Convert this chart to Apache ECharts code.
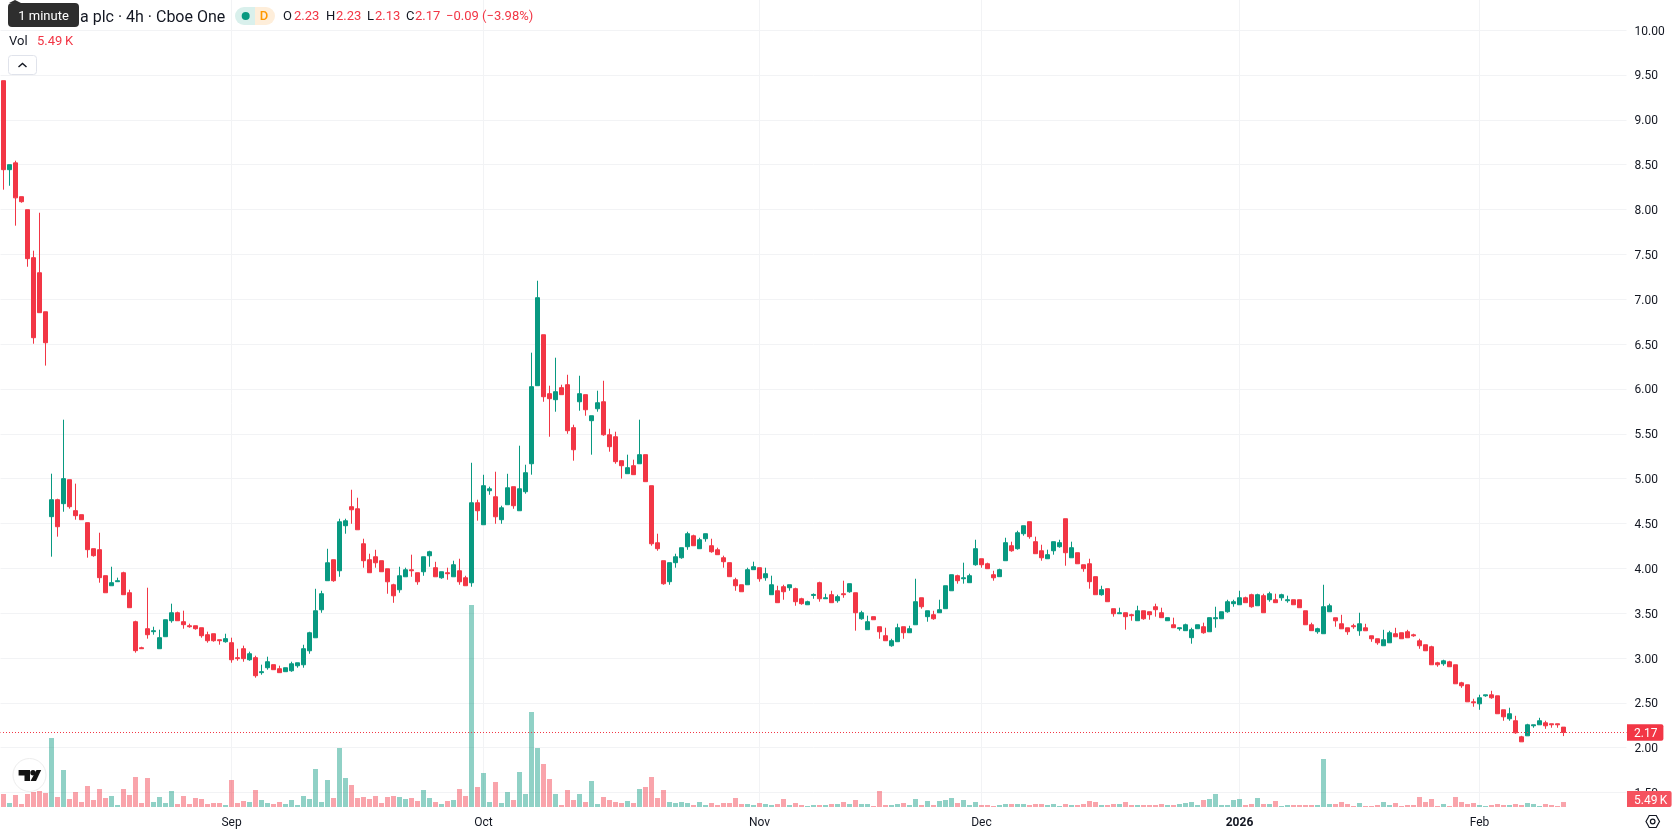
<!DOCTYPE html>
<html>
<head>
<meta charset="utf-8">
<title>4h price and volume</title>
<style>html,body{margin:0;padding:0;background:#fff}#chart{width:1678px;height:835px}</style>
<script src="https://cdn.jsdelivr.net/npm/echarts@6/dist/echarts.min.js"></script>
</head>
<body>
<div id="chart"></div>
<script>
// Candle values, one entry per 4h bar
const opens = [
9.436,8.444,8.52,8.143,7.998,7.463,7.295,6.86,4.576,4.765,
4.721,4.988,4.643,4.598,4.509,4.219,4.208,3.918,3.806,3.851,
3.951,3.728,3.405,3.115,3.327,3.294,3.104,3.238,3.416,3.505,
3.405,3.36,3.36,3.338,3.26,3.271,3.204,3.182,3.171,3.004,
3.104,2.981,3.004,2.837,2.892,2.926,2.881,2.848,2.858,2.914,
2.925,3.081,3.226,3.538,3.862,4.096,3.973,4.475,4.687,4.664,
4.274,4.096,4.129,4.085,3.995,3.817,3.761,3.906,3.984,3.951,
3.962,4.14,4.007,3.895,3.951,3.906,3.973,3.895,3.839,4.731,
4.486,4.865,4.798,4.542,4.709,4.91,4.642,4.854,5.166,6.036,
6.604,5.947,5.88,6.014,6.047,5.568,5.857,5.936,5.646,5.779,
5.857,5.489,5.467,5.2,5.055,5.144,5.166,5.267,4.921,4.285,
4.085,3.851,4.063,4.118,4.241,4.363,4.219,4.33,4.252,4.207,
4.118,4.063,3.873,3.817,3.817,3.985,4.007,3.895,3.706,3.75,
3.795,3.784,3.773,3.661,3.594,3.698,3.84,3.661,3.706,3.639,
3.717,3.739,3.728,3.438,3.316,3.461,3.349,3.249,3.137,3.182,
3.349,3.282,3.371,3.672,3.461,3.483,3.505,3.55,3.75,3.918,
3.884,3.84,4.04,4.107,4.051,3.929,3.907,4.085,4.252,4.219,
4.386,4.52,4.297,4.196,4.107,4.196,4.241,4.553,4.118,4.174,
4.04,4.051,3.907,3.706,3.773,3.55,3.494,3.505,3.483,3.416,
3.527,3.516,3.572,3.505,3.416,3.371,3.327,3.305,3.227,3.327,
3.349,3.293,3.438,3.438,3.516,3.606,3.594,3.672,3.706,3.583,
3.695,3.65,3.65,3.672,3.639,3.65,3.65,3.527,3.371,3.293,
3.271,3.516,3.449,3.382,3.337,3.36,3.304,3.337,3.248,3.215,
3.137,3.17,3.271,3.282,3.293,3.259,3.192,3.148,3.126,2.947,
2.936,2.958,2.925,2.724,2.702,2.512,2.49,2.579,2.59,2.579,
2.423,2.323,2.301,2.122,2.133,2.245,2.256,2.278,2.267,2.267,
2.23];
const highs = [
9.436,8.5,8.544,8.143,7.998,7.541,7.964,6.86,5.055,4.776,
5.657,4.988,4.944,4.598,4.509,4.219,4.397,3.918,4.018,3.896,
3.962,3.762,3.416,3.126,3.784,3.349,3.316,3.427,3.606,3.517,
3.528,3.383,3.36,3.338,3.294,3.271,3.204,3.271,3.227,3.104,
3.138,3.071,3.026,2.926,3.015,2.926,2.915,2.892,2.959,2.947,
3.148,3.293,3.772,3.75,4.218,4.096,4.553,4.553,4.876,4.787,
4.33,4.163,4.207,4.085,3.995,3.828,4.018,4.007,4.152,3.951,
4.129,4.196,4.073,3.962,4.007,4.085,4.107,3.917,5.177,4.765,
5.043,4.91,5.077,4.698,5.054,4.91,5.367,5.155,6.404,7.206,
6.604,6.036,6.348,6.047,6.158,5.601,6.147,5.936,5.701,5.98,
6.091,5.556,5.523,5.2,5.267,5.211,5.657,5.267,4.921,4.386,
4.085,4.063,4.163,4.23,4.408,4.375,4.341,4.386,4.33,4.23,
4.141,4.063,3.895,3.817,4.007,4.074,4.007,4.007,3.918,3.806,
3.817,3.817,3.784,3.672,3.639,3.72,3.851,3.717,3.75,3.706,
3.862,3.829,3.728,3.527,3.472,3.461,3.349,3.338,3.215,3.383,
3.349,3.36,3.884,3.672,3.527,3.527,3.65,3.806,3.929,3.929,
4.063,3.94,4.319,4.107,4.063,3.973,3.996,4.341,4.297,4.419,
4.475,4.52,4.353,4.263,4.208,4.297,4.319,4.553,4.297,4.174,
4.04,4.107,3.907,3.806,3.773,3.55,3.561,3.505,3.494,3.583,
3.527,3.516,3.606,3.561,3.45,3.45,3.338,3.383,3.338,3.371,
3.394,3.45,3.572,3.516,3.65,3.65,3.75,3.684,3.717,3.717,
3.717,3.739,3.717,3.717,3.695,3.65,3.65,3.527,3.394,3.338,
3.817,3.606,3.449,3.482,3.337,3.382,3.505,3.382,3.248,3.215,
3.315,3.304,3.337,3.282,3.315,3.271,3.215,3.148,3.137,2.958,
2.981,2.969,2.925,2.735,2.702,2.546,2.591,2.59,2.635,2.579,
2.423,2.446,2.356,2.133,2.267,2.256,2.334,2.301,2.267,2.267,
2.23];
const lows = [
8.221,8.265,7.82,8.076,7.362,6.504,6.85,6.26,4.13,4.353,
4.631,4.665,4.542,4.542,4.119,4.13,3.84,3.728,3.806,3.851,
3.706,3.561,3.06,3.104,3.216,3.26,3.104,3.238,3.394,3.416,
3.327,3.338,3.316,3.227,3.171,3.182,3.149,3.171,2.948,2.97,
2.959,2.97,2.781,2.814,2.87,2.87,2.837,2.848,2.847,2.892,
2.892,3.048,3.226,3.505,3.862,3.85,3.906,4.386,4.497,4.43,
4.007,3.951,4.007,3.962,3.717,3.616,3.728,3.906,3.906,3.817,
3.917,4.018,3.906,3.884,3.873,3.906,3.817,3.806,3.795,4.531,
4.486,4.82,4.497,4.497,4.709,4.664,4.642,4.832,5.044,6.036,
5.857,5.467,5.746,5.936,5.5,5.2,5.757,5.701,5.267,5.746,
5.478,5.3,5.166,5.0,5.055,5.044,5.166,4.966,4.252,4.196,
3.817,3.817,4.007,4.107,4.207,4.252,4.219,4.297,4.174,4.152,
4.007,3.907,3.75,3.739,3.817,3.985,3.851,3.862,3.706,3.617,
3.65,3.75,3.583,3.594,3.594,3.661,3.628,3.661,3.617,3.617,
3.672,3.728,3.305,3.427,3.316,3.427,3.215,3.193,3.126,3.182,
3.215,3.282,3.371,3.55,3.405,3.427,3.505,3.55,3.75,3.829,
3.829,3.84,4.029,4.007,3.996,3.862,3.907,4.085,4.185,4.208,
4.364,4.33,4.163,4.085,4.107,4.152,4.23,4.029,4.118,4.051,
3.962,3.773,3.706,3.695,3.628,3.461,3.494,3.316,3.416,3.416,
3.427,3.427,3.461,3.45,3.416,3.338,3.305,3.305,3.16,3.327,
3.271,3.293,3.338,3.438,3.505,3.572,3.594,3.617,3.561,3.583,
3.505,3.628,3.617,3.639,3.617,3.594,3.561,3.371,3.305,3.271,
3.271,3.516,3.349,3.326,3.259,3.326,3.248,3.304,3.181,3.148,
3.137,3.17,3.237,3.215,3.226,3.237,3.103,3.081,2.925,2.903,
2.914,2.903,2.713,2.668,2.512,2.457,2.423,2.568,2.546,2.379,
2.301,2.301,2.156,2.066,2.133,2.223,2.256,2.211,2.223,2.223,
2.13];
const closes = [
8.444,8.5,8.13,8.087,7.452,6.571,6.85,6.515,4.765,4.464,
5.0,4.687,4.587,4.542,4.208,4.141,3.896,3.728,3.84,3.862,
3.706,3.561,3.082,3.104,3.26,3.305,3.227,3.427,3.505,3.416,
3.372,3.349,3.327,3.249,3.193,3.193,3.193,3.216,2.981,2.993,
2.993,3.048,2.803,2.848,2.959,2.87,2.837,2.892,2.936,2.947,
3.104,3.282,3.527,3.717,4.062,3.862,4.519,4.53,4.653,4.43,
4.085,3.951,4.062,3.962,3.85,3.694,3.917,3.984,3.973,3.85,
4.129,4.185,3.906,3.962,3.94,4.04,3.85,3.806,4.731,4.642,
4.921,4.887,4.575,4.675,4.898,4.698,4.887,5.066,6.025,7.017,
5.913,5.891,5.969,5.936,5.534,5.322,5.947,5.768,5.701,5.846,
5.489,5.356,5.189,5.144,5.122,5.044,5.267,4.966,4.274,4.219,
3.828,4.063,4.129,4.23,4.386,4.252,4.319,4.386,4.185,4.152,
4.074,3.907,3.806,3.739,3.985,4.018,3.884,3.94,3.817,3.617,
3.739,3.817,3.628,3.606,3.628,3.709,3.661,3.672,3.617,3.684,
3.706,3.829,3.505,3.505,3.405,3.427,3.293,3.193,3.193,3.338,
3.282,3.327,3.628,3.572,3.527,3.438,3.539,3.806,3.929,3.862,
3.895,3.918,4.219,4.04,3.996,3.895,3.985,4.286,4.196,4.397,
4.475,4.353,4.163,4.118,4.152,4.297,4.286,4.174,4.23,4.051,
3.996,3.851,3.706,3.762,3.628,3.494,3.505,3.461,3.472,3.527,
3.438,3.483,3.539,3.45,3.45,3.338,3.338,3.371,3.316,3.371,
3.282,3.45,3.45,3.516,3.628,3.628,3.672,3.617,3.572,3.706,
3.505,3.717,3.617,3.706,3.65,3.594,3.561,3.371,3.305,3.327,
3.572,3.583,3.415,3.326,3.293,3.349,3.382,3.304,3.215,3.17,
3.204,3.282,3.237,3.215,3.226,3.248,3.137,3.081,2.925,2.925,
2.969,2.903,2.713,2.691,2.512,2.501,2.557,2.59,2.557,2.379,
2.345,2.379,2.167,2.066,2.256,2.256,2.301,2.245,2.256,2.256,
2.17];
// Volume per bar, in thousands
const volumes = [
14.3,4.4,13.2,3.3,14.3,16.5,17.6,15.4,75.9,11,
40.7,8.8,16.5,5.5,23.1,7.7,19.8,9.9,12.1,2.2,
19.8,13.2,33,4.4,31.9,5.5,11,4.4,17.6,3.3,
12.1,3.3,9.9,8.8,3.3,4.4,4.4,2.2,29.7,4.4,
6.6,5.5,18.7,7.7,4.4,3.3,5.5,3.3,7.7,2.2,
12.1,8.8,41.8,5.5,29.7,9.9,64.9,31.9,24.2,9.9,
11,8.8,12.1,4.4,11,12.1,11,8.8,9.9,6.6,
18.7,9.9,5.5,3.3,6.6,7.7,19.8,12.1,222.2,22,
37.4,5.5,27.5,4.4,16.5,7.7,38.5,14.3,104.5,64.9,
47.3,30.8,14.3,2.2,18.7,7.7,14.3,5.5,28.6,3.3,
11,7.7,5.5,4.4,6.6,4.4,19.8,22,33,9.9,
18.7,5.5,4.4,5.5,4.4,2.2,5.5,2.2,4.4,2.2,
4.4,4.4,9.9,3.3,3.3,2.2,4.4,3.3,2.2,3.3,
8.8,2.2,4.4,2.2,1.1,2.2,2.2,2.2,3.3,3.3,
5.5,3.3,7.7,3.3,3.3,1.1,17.6,2.2,2.2,3.3,
4.4,2.2,8.8,2.2,6.6,2.2,6.6,7.7,9.9,4.4,
7.7,2.2,5.5,2.2,2.2,1.1,2.2,3.3,3.3,3.3,
3.3,2.2,3.3,3.3,2.2,3.3,1.1,3.3,2.2,2.2,
3.3,6.6,5.5,2.2,2.2,3.3,3.3,5.5,2.2,2.2,
2.2,2.2,2.2,3.3,2.2,2.2,3.3,4.4,5.5,2.2,
7.7,8.8,14.3,2.2,2.2,7.7,8.8,2.2,3.3,9.9,
3.3,3.3,6.6,1.1,2.2,2.2,2.2,2.2,2.2,2.2,
52.8,3.3,3.3,5.5,3.3,1.1,4.4,1.1,1.1,2.2,
5.5,2.2,4.4,1.1,2.2,2.2,11,5.5,8.8,1.1,
3.3,1.1,11,5.5,3.3,4.4,2.2,1.1,2.2,3.3,
2.2,2.2,3.3,2.2,4.4,3.3,1.1,3.3,2.2,1.1,
5.49];
// Bars where each time-scale label sits
const monthNames = ['Sep','Oct','Nov','Dec','2026','Feb'];
const monthBars = [38,80,126,163,206,246];
const emptyBarsRight = 10;
const priceTicks = {min:1.5,max:10,step:0.5};
const lastClose = closes[closes.length-1];
const lastVolumeText = '5.49\u2009K';

const UP='#089981', DOWN='#f23645', GRID='#f2f3f5', INK='#131722';
const FONT='Roboto, sans-serif';

const categories = new Array(opens.length+emptyBarsRight).fill('');
monthBars.forEach((b,k)=>{categories[b]=monthNames[k];});
const isLabelled = idx => categories[idx] !== '';

const t=(text,x,y,fill,size,opt)=>({type:'text',z:100,silent:true,
  style:{text,x,y,fill,font:(opt&&opt.weight?opt.weight+' ':'')+size+'px '+FONT,textVerticalAlign:'middle',textAlign:(opt&&opt.align)||'left'}});

const overlay=[
  // symbol title, interval and exchange
  t('a plc · 4h · Cboe One',80,18,INK,16),
  // market status pill
  {type:'rect',z:100,shape:{x:235,y:7,width:20,height:18,r:[9,0,0,9]},style:{fill:'#d9f0ec'}},
  {type:'rect',z:100,shape:{x:255,y:7,width:20,height:18,r:[0,9,9,0]},style:{fill:'#feeeda'}},
  {type:'circle',z:101,shape:{cx:245.7,cy:16,r:4},style:{fill:UP}},
  t('D',264,17,'#ff9800',13,{align:'center',weight:500}),
  // OHLC readout
  t('O',283,17,INK,13),t('2.23',294,17,DOWN,13),
  t('H',326,17,INK,13),t('2.23',336,17,DOWN,13),
  t('L',367,17,INK,13),t('2.13',375,17,DOWN,13),
  t('C',406,17,INK,13),t('2.17',415,17,DOWN,13),
  t('−0.09 (−3.98%)',446,17,DOWN,13),
  // tooltip over the title
  {type:'polygon',z:110,shape:{points:[[9,3],[15,0],[21,3]]},style:{fill:'#2e2e2e'}},
  {type:'rect',z:110,shape:{x:8,y:3,width:71,height:24,r:4},style:{fill:'#2e2e2e'}},
  Object.assign(t('1 minute',43.5,16.5,'#ffffff',13,{align:'center'}),{z:111}),
  // volume legend and collapse button
  t('Vol',9,42,INK,13),t(lastVolumeText,37,42,DOWN,13),
  {type:'rect',z:100,shape:{x:8.5,y:55.5,width:28,height:19,r:3},style:{fill:'#fff',stroke:'#e0e3eb',lineWidth:1}},
  {type:'polyline',z:101,shape:{points:[[18.5,67],[22.5,63.5],[26.5,67]]},style:{stroke:INK,lineWidth:1.4,fill:null}},
  // logo badge
  {type:'circle',z:100,shape:{cx:29.5,cy:775,r:16.5},style:{fill:'#fff',stroke:'#ededed',lineWidth:1}},
  {type:'polygon',z:101,shape:{points:[[18.6,770],[30,770],[30,781],[24.5,781],[24.5,775.5],[18.6,775.5]]},style:{fill:'#131313'}},
  {type:'circle',z:101,shape:{cx:33,cy:772.7,r:2.7},style:{fill:'#131313'}},
  {type:'polygon',z:101,shape:{points:[[36.5,770],[41.2,770],[36,781],[30.5,781]]},style:{fill:'#131313'}},
  // volume value tag on the price scale
  {type:'rect',z:100,shape:{x:1627,y:791,width:44.6,height:16,r:[0,2,2,0]},style:{fill:'#f5535f'}},
  t(lastVolumeText,1634,800.5,'#ffffff',12),
  // settings icon
  {type:'polygon',z:100,shape:{points:[[1646,821.5],[1649.3,815.5],[1656.2,815.5],[1659.5,821.5],[1656.2,827.5],[1649.3,827.5]]},style:{fill:'none',stroke:INK,lineWidth:1.2}},
  {type:'circle',z:100,shape:{cx:1652.7,cy:821.5,r:2.3},style:{fill:'none',stroke:INK,lineWidth:1.2}}
];

const option={
  animation:false,
  backgroundColor:'#ffffff',
  textStyle:{fontFamily:FONT},
  grid:[
    {left:0.5,top:30.1,width:1626,height:762.5},
    {left:0.5,top:0,width:1626,height:807}
  ],
  xAxis:[
    {type:'category',gridIndex:0,data:categories,show:false},
    {type:'category',gridIndex:1,data:categories,
      axisLine:{show:false},axisTick:{show:false},splitLine:{show:false},
      axisLabel:{interval:idx=>isLabelled(idx),margin:10,fontSize:12,color:INK,fontFamily:FONT,
        formatter:v=>/^\d+$/.test(v)?'{y|'+v+'}':v,
        rich:{y:{fontWeight:700,fontSize:12,color:INK,fontFamily:FONT}}}}
  ],
  yAxis:[
    {type:'value',gridIndex:0,position:'right',min:priceTicks.min,max:priceTicks.max,interval:priceTicks.step,
      axisLine:{show:false},axisTick:{show:false},
      axisLabel:{formatter:v=>'{p|'+v.toFixed(2)+'}',margin:8,
        rich:{p:{fontSize:12,color:INK,fontFamily:FONT,padding:[3,0,0,0]}}},
      splitLine:{lineStyle:{color:GRID,width:1}}},
    {type:'value',gridIndex:1,min:0,max:887.7,show:false,splitLine:{show:false}}
  ],
  series:[
    {type:'bar',name:'Vol',xAxisIndex:1,yAxisIndex:1,barWidth:5,z:2,silent:true,
      data:volumes.map((v,i)=>({value:v,itemStyle:{color:closes[i]>=opens[i]?'rgba(8,153,129,0.45)':'rgba(242,54,69,0.45)'}})),
      markLine:{silent:true,symbol:'none',z:1,label:{show:false},
        lineStyle:{color:GRID,width:1,type:'solid'},
        data:monthBars.map(b=>({xAxis:b}))}},
    {type:'candlestick',name:'Price',xAxisIndex:0,yAxisIndex:0,barWidth:4,z:3,silent:true,
      itemStyle:{color:UP,color0:DOWN,borderColor:UP,borderColor0:DOWN,borderWidth:1},
      data:opens.map((o,i)=>[o,closes[i],lows[i],highs[i]]),
      markLine:{silent:true,symbol:'none',z:5,
        lineStyle:{color:DOWN,width:1,type:[1,2],dashOffset:0.5},
        label:{show:true,position:'end',distance:0.5,formatter:()=>'{p|'+lastClose.toFixed(2)+'}',
          backgroundColor:DOWN,padding:[1.5,6,1.5,7],borderRadius:[0,2,2,0],
          rich:{p:{color:'#fff',fontSize:12,fontFamily:FONT,padding:[3,0,0,0],lineHeight:13.4}}},
        data:[{yAxis:lastClose}]}}
  ],
  graphic:{elements:overlay}
};
const chart=echarts.init(document.getElementById('chart'),null,{renderer:'canvas'});
chart.setOption(option);
</script>
</body>
</html>
